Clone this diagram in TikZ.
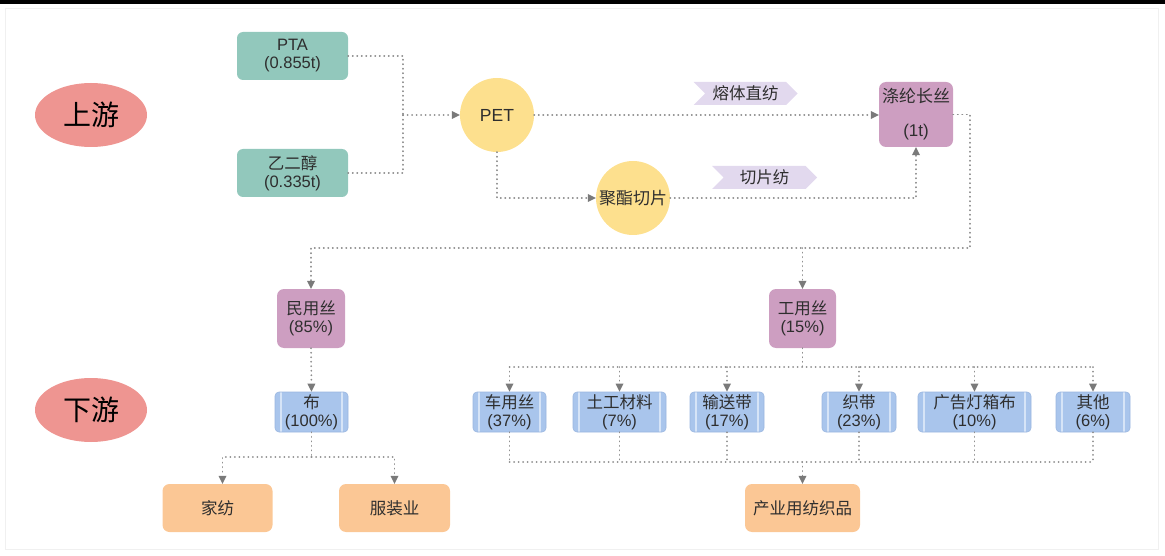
\documentclass[tikz,border=0pt]{standalone}
\usepackage{fontspec}
\setmainfont{Liberation Sans}
\newfontfamily\cjk{Noto Sans CJK SC}
\usetikzlibrary{arrows.meta, shapes.geometric, shapes.symbols, positioning}

\definecolor{inkgray}{HTML}{2E2E2E}
\definecolor{linegray}{HTML}{8E8E8E}
\definecolor{tipgray}{HTML}{7A7A7A}
\definecolor{salmon}{HTML}{EE9591}
\definecolor{tealbox}{HTML}{92C8BC}
\definecolor{petyellow}{HTML}{FDE08E}
\definecolor{mauve}{HTML}{CD9EC1}
\definecolor{lilac}{HTML}{E2D9EE}
\definecolor{skyblue}{HTML}{A9C5EC}
\definecolor{skyedge}{HTML}{9AB6E0}
\definecolor{skyline}{HTML}{D6E4F7}
\definecolor{peach}{HTML}{FBC795}

% chevron label on a process line: #1 name, #2 x, #3 y, #4 width, #5 text
\newcommand{\routetag}[5]{
  \node[signal, signal to=east, signal from=west, fill=lilac, minimum width=#4,
        minimum height=23, inner sep=1pt, font=\fontsize{16.5}{18}\selectfont, text=inkgray] (#1) at (#2,#3) {{\cjk #5}};
}

\tikzset{
  boxtext/.style={align=center, text=inkgray, font=\fontsize{16.5}{18}\selectfont, inner sep=2pt},
  stage/.style={ellipse, fill=salmon, minimum width=112, minimum height=64, text=black, font=\fontsize{28}{30}\selectfont},
  rawbox/.style={boxtext, rectangle, rounded corners=6, fill=tealbox, minimum width=111, minimum height=48},
  ball/.style={boxtext, circle, fill=petyellow, minimum size=74, inner sep=0pt},
  silkbox/.style={boxtext, rectangle, rounded corners=7, fill=mauve, minimum height=59},
  fabbox/.style={boxtext, rectangle, rounded corners=4, fill=skyblue, draw=skyedge, line width=0.6,
    minimum height=40,
    path picture={
      \draw[skyline, line width=1.2]
        ([xshift=6]path picture bounding box.north west) -- ([xshift=6]path picture bounding box.south west)
        ([xshift=-6]path picture bounding box.north east) -- ([xshift=-6]path picture bounding box.south east);
    }},
  endbox/.style={boxtext, rectangle, rounded corners=7, fill=peach, minimum height=48},
  flow/.style={linegray, line width=1.9, dash pattern=on 0.1 off 4.4, line cap=round},
  flowto/.style={flow, -{Triangle[length=8,width=8,fill=tipgray,line width=0]}}
}

\begin{document}
\begin{tikzpicture}[x=1pt, y=-1pt]
\useasboundingbox (0,0) rectangle (1165,556);

% frame of the page
\fill[black] (0,0) rectangle (1165,4);
\draw[gray!12, line width=1] (5,9) rectangle (1158,549);

% upstream / downstream markers
\node[stage] (up) at (91,115) {{\cjk 上游}};
\node[stage] (down) at (91,410) {{\cjk 下游}};

% raw materials
\node[rawbox] (pta) at (292.5,56) {PTA\\(0.855t)};
\node[rawbox] (eg) at (292.5,173) {{\cjk 乙二醇}\\(0.335t)};

% polymer
\node[ball, font=\fontsize{17.5}{19}\selectfont] (pet) at (497,115) {PET};
\node[ball, font=\fontsize{17}{19}\selectfont] (chip) at (633,198) {{\cjk 聚酯切片}};

% polyester filament
\node[silkbox, minimum width=74, minimum height=65, font=\fontsize{17}{19}\selectfont] (pes) at (916,114.5) {{\cjk 涤纶长丝}\\[15pt](1t)};

% spinning routes
\routetag{melt}{745.5}{93.5}{104}{熔体直纺}
\routetag{slice}{764.5}{177.5}{105}{切片纺}

% civil and industrial yarn
\node[silkbox, minimum width=68] (civ) at (311,318.5) {{\cjk 民用丝}\\(85\%)};
\node[silkbox, minimum width=67] (ind) at (802.5,318.5) {{\cjk 工用丝}\\(15\%)};

% civil branch
\node[fabbox, minimum width=73] (cloth) at (311.5,412) {{\cjk 布}\\(100\%)};
\node[endbox, minimum width=110] (home) at (217.5,508) {{\cjk 家纺}};
\node[endbox, minimum width=111] (wear) at (394.5,508) {{\cjk 服装业}};

% industrial branch
\foreach \name/\x/\w/\txt/\pct in {car/509.5/73/车用丝/37, geo/619.5/93/土工材料/7,
    belt/727/74/输送带/17, web/859/74/织带/23, sign/974.5/113/广告灯箱布/10, other/1093/74/其他/6}
{
  \node[fabbox, minimum width=\w] (\name) at (\x,412) {{\cjk \txt}\\(\pct\%)};
}
\node[endbox, minimum width=115] (tex) at (802.5,508) {{\cjk 产业用纺织品}};

% junctions
\coordinate (jraw) at (403,115);
\coordinate (jout) at (970,248);
\coordinate (jind) at (802.5,367);
\coordinate (jcloth) at (311.5,457);
\coordinate (jtex) at (802.5,462);

% upstream flow
\draw[flow] (pta.east) -| (jraw);
\draw[flow] (eg.east) -| (jraw);
\draw[flowto] (jraw) -- (pet.west);
\draw[flowto] (pet.east) -- (pes.west |- pet.east);
\draw[flowto] (pet.south) |- (chip.west);
\draw[flowto] (chip.east) -| (pes.south);

% down to the two yarn kinds
\draw[flowto] (pes.east) -| (jout) -| (civ.north);
\draw[flowto] (ind.north |- jout) -- (ind.north);

% civil yarn
\draw[flowto] (civ.south) -- (cloth.north);
\draw[flow] (cloth.south) -- (jcloth);
\draw[flowto] (jcloth) -| ([xshift=5]home.north);
\draw[flowto] (jcloth) -| (wear.north);

% industrial yarn: one bus above, one bus below
\draw[flow] (ind.south) -- (jind);
\draw[flow] (car.north |- jind) -- (other.north |- jind);
\draw[flow] (car.south |- jtex) -- (other.south |- jtex);
\foreach \name in {car,geo,belt,web,sign,other}
{
  \draw[flowto] (\name.north |- jind) -- (\name.north);
  \draw[flow] (\name.south) -- (\name.south |- jtex);
}
\draw[flowto] (jtex) -- (tex.north);

\end{tikzpicture}
\end{document}
